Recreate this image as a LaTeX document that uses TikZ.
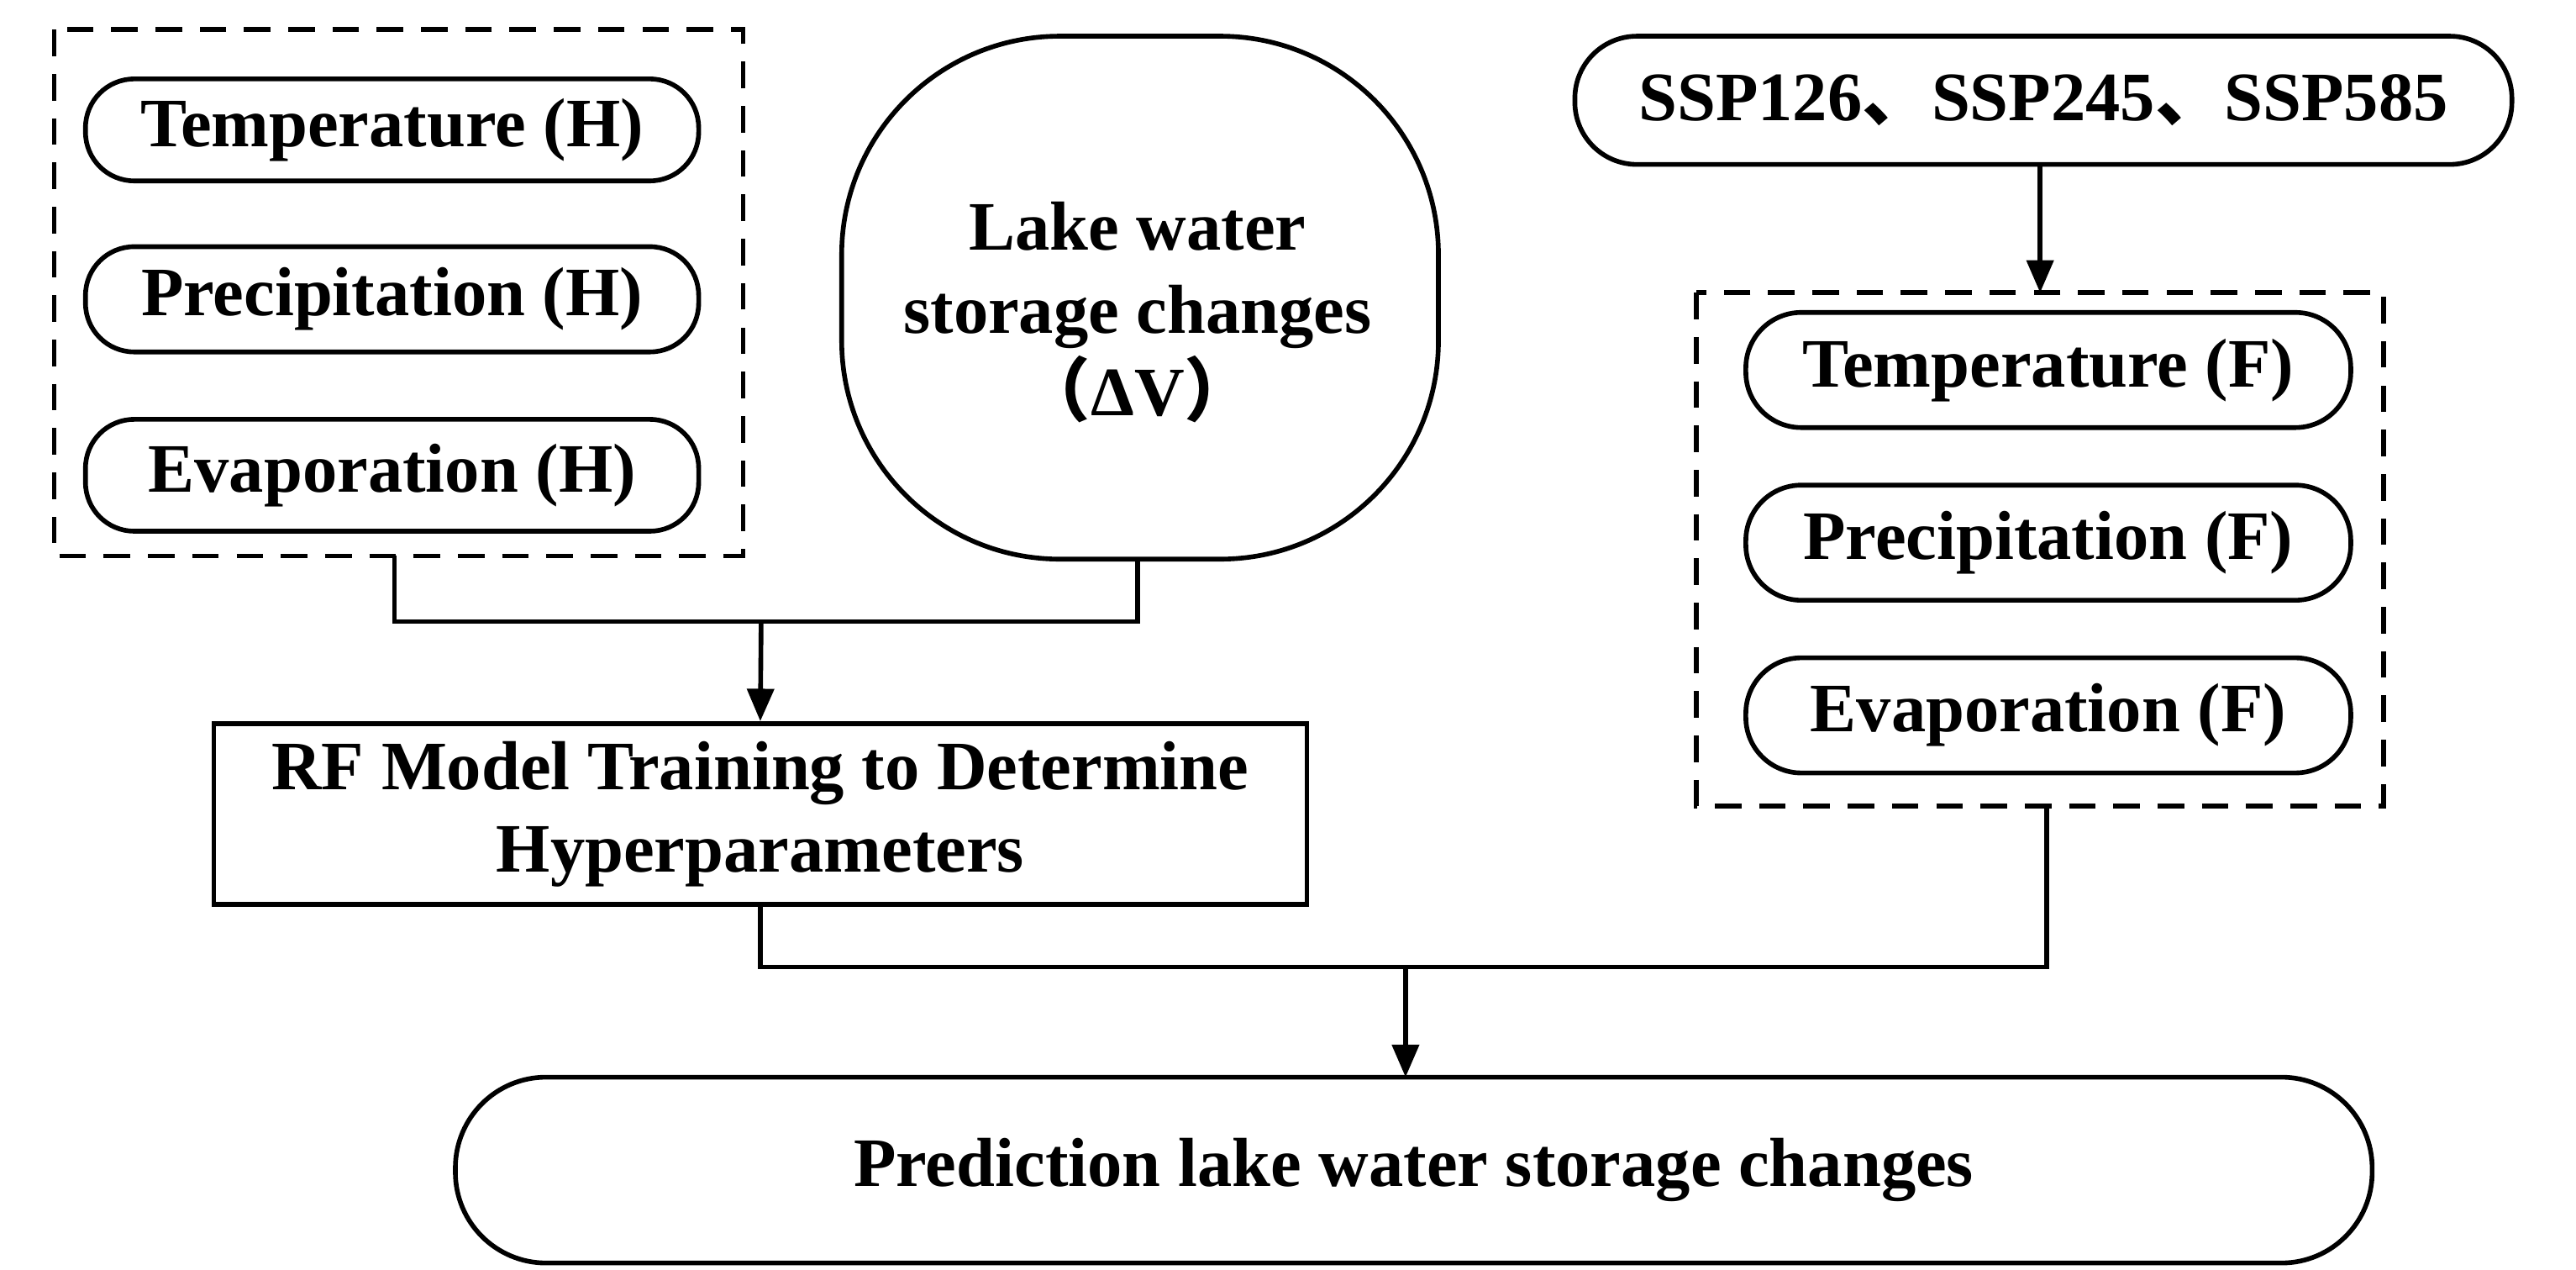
\documentclass[tikz,border=0pt]{standalone}
\usepackage{fontspec}
\setmainfont{Liberation Serif}
\newfontfamily\cjk{Noto Sans CJK SC}
\usetikzlibrary{arrows.meta}
\begin{document}
\begin{tikzpicture}[x=0.01957cm,y=-0.01957cm,
  font=\fontsize{23.5}{28}\selectfont\bfseries,
  pill/.style={draw,line width=1.6pt,rounded corners=0.58cm,inner sep=0pt},
  dbox/.style={draw,line width=1.6pt,dash pattern=on 9pt off 6pt},
  ln/.style={line width=1.6pt},
  arr/.style={line width=1.6pt,-{Triangle[length=11pt,width=9pt]}}]
\useasboundingbox (0,0) rectangle (1567,772);
% left group
\draw[dbox] (33,18) rectangle (452,338);
\draw[pill] (52,48) rectangle (425,110) node[midway] (th) {Temperature (H)};
\draw[pill] (52,150) rectangle (425,214) node[midway] (ph) {Precipitation (H)};
\draw[pill] (52,255) rectangle (425,323) node[midway] (eh) {Evaporation (H)};
\coordinate (lb) at (240,338);
% lake
\draw[ln,rounded corners=2.6cm] (512,22) rectangle (875,340);
\node[align=center] (lake) at (692,190) {Lake water\\storage changes\\{\cjk （}ΔV{\cjk ）}};
\coordinate (lkb) at (692,340);
% SSP
\draw[pill,rounded corners=0.74cm] (958,22) rectangle (1528,100) node[midway] (ssp) {SSP126{\cjk 、}SSP245{\cjk 、}SSP585};
\coordinate (sspb) at (1241,100);
% right group
\draw[dbox] (1032,178) rectangle (1450,490);
\coordinate (rt) at (1241,178);
\coordinate (rb) at (1245,490);
\draw[pill,rounded corners=0.66cm] (1062,190) rectangle (1430,260) node[midway] (tf) {Temperature (F)};
\draw[pill,rounded corners=0.66cm] (1062,295) rectangle (1430,365) node[midway] (pf) {Precipitation (F)};
\draw[pill,rounded corners=0.66cm] (1062,400) rectangle (1430,470) node[midway] (ef) {Evaporation (F)};
% RF box
\node[draw,line width=1.6pt,minimum width=665*0.01957cm,minimum height=110*0.01957cm,align=center] (rf) at (462.5,495) {RF Model Training to Determine\\Hyperparameters};
% bottom
\draw[pill,rounded corners=1.08cm] (277,655) rectangle (1443,768) node[midway] (pred) {Prediction lake water storage changes};
\coordinate (pt) at (855,655);
% connectors
\coordinate (j1) at (463,378);
\coordinate (j2) at (855,588);
\draw[arr] (sspb) -- (rt);
\draw[ln] (lb) |- (j1) -| (lkb);
\draw[arr] (j1) -- (rf.north);
\draw[ln] (rf.south) |- (j2) -| (rb);
\draw[arr] (j2) -- (pt);
\end{tikzpicture}
\end{document}
